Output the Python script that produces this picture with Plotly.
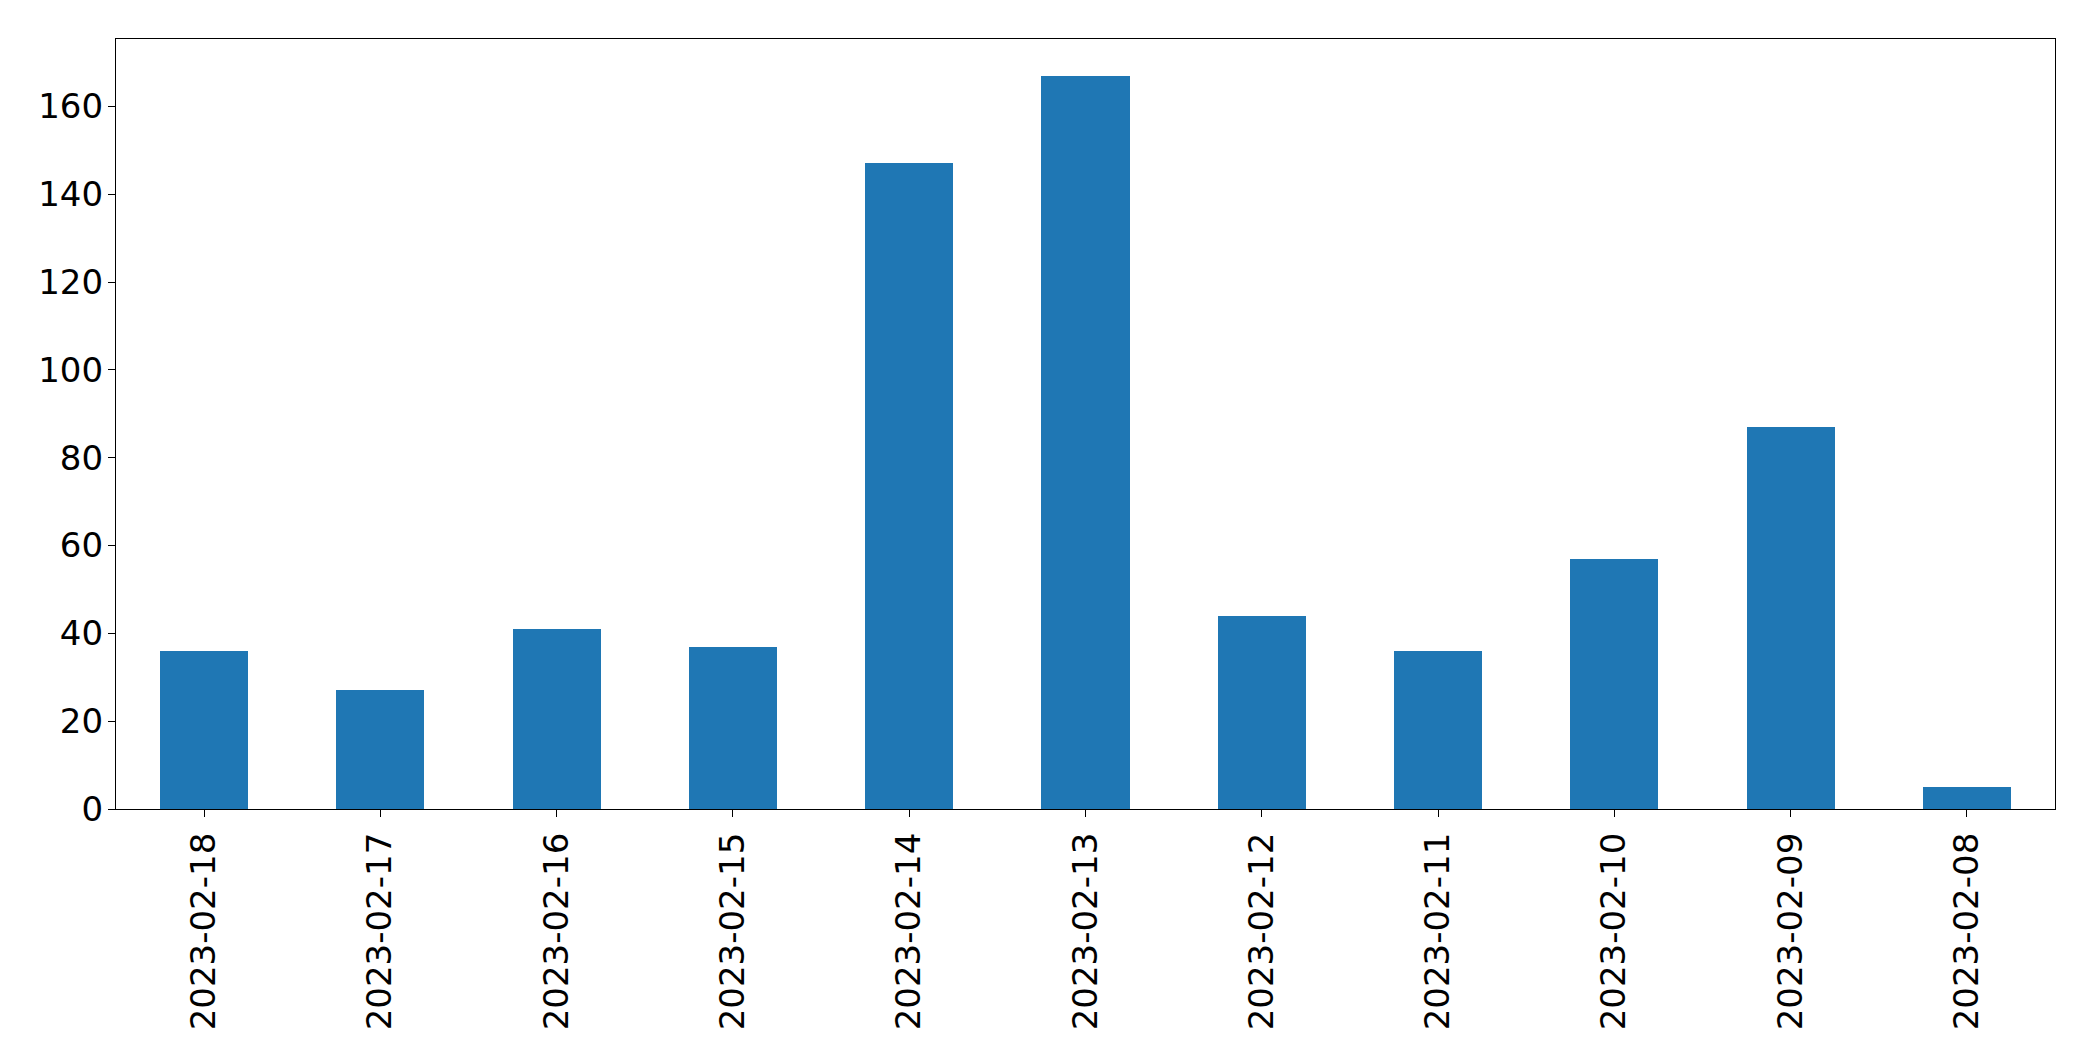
import plotly.graph_objects as go

dates = ["2023-02-18", "2023-02-17", "2023-02-16", "2023-02-15", "2023-02-14",
         "2023-02-13", "2023-02-12", "2023-02-11", "2023-02-10", "2023-02-09", "2023-02-08"]
counts = [36, 27, 41, 37, 147, 167, 44, 36, 57, 87, 5]
y_ticks = [0, 20, 40, 60, 80, 100, 120, 140, 160]

fig = go.Figure(go.Bar(
    x=dates, y=counts, width=0.5,
    marker=dict(color="#1f77b4", line=dict(width=0)),
))

fig.update_layout(
    width=2093, height=1061,
    margin=dict(l=116, r=38, t=39, b=252),
    plot_bgcolor="white", paper_bgcolor="white",
    font=dict(family="DejaVu Sans", size=34, color="black"),
    showlegend=False, bargap=0,
)
fig.update_xaxes(
    type="category", range=[-0.5, len(dates) - 0.5],
    tickangle=-90, ticks="outside", ticklen=7, tickwidth=1.3, tickcolor="black",
    showline=True, linecolor="black", linewidth=1.3, mirror=True,
    showgrid=False, zeroline=False, ticklabelstandoff=2,
)
fig.update_yaxes(
    range=[0, max(counts) * 1.05], tickvals=y_ticks,
    ticks="outside", ticklen=7, tickwidth=1.3, tickcolor="black",
    showline=True, linecolor="black", linewidth=1.3, mirror=True,
    showgrid=False, zeroline=False, ticklabelstandoff=-2,
)

fig.write_html("out.html")
